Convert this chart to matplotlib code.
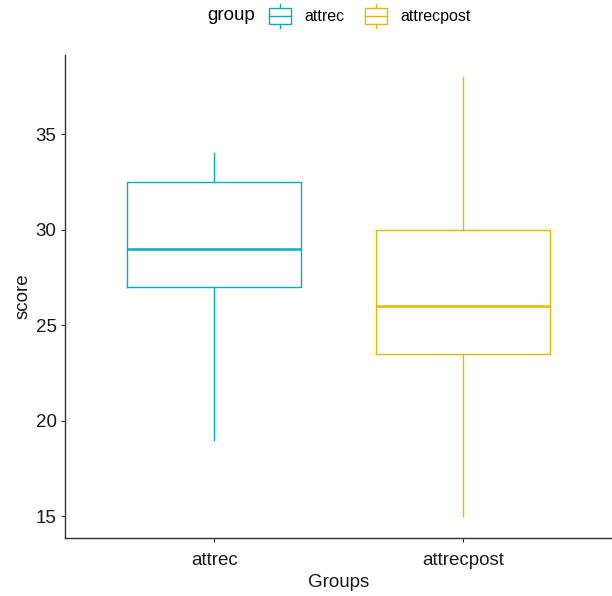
import matplotlib
matplotlib.use("Agg")
import matplotlib.pyplot as plt
from matplotlib.lines import Line2D
from matplotlib.patches import Rectangle
from matplotlib.legend_handler import HandlerBase
from matplotlib.offsetbox import HPacker

plt.rcParams['font.family'] = ['Liberation Sans', 'DejaVu Sans']

groups = ["attrec", "attrecpost"]
colors = ["#00AFBB", "#E7B800"]
whislo = [19, 15]
q1 = [27, 23.5]
med = [29, 26]
q3 = [32.5, 30]
whishi = [34, 38]
yticks = [15, 20, 25, 30, 35]

fig = plt.figure(figsize=(6.12, 5.96), dpi=100)
ax = fig.add_axes([65/612, 58/596, (612-65)/612, (538-55)/596])

stats = []
for i, g in enumerate(groups):
    stats.append(dict(label=g, whislo=whislo[i], q1=q1[i], med=med[i], q3=q3[i], whishi=whishi[i], fliers=[]))

for i, s in enumerate(stats):
    c = colors[i]
    ax.bxp([s], positions=[i + 1], widths=0.7, showcaps=False, showfliers=False,
           boxprops=dict(color=c, linewidth=1.0),
           whiskerprops=dict(color=c, linewidth=1.0),
           medianprops=dict(color=c, linewidth=1.8),
           manage_ticks=False)

ax.set_xlim(0.4, 2.6)
ax.set_ylim(13.85, 39.15)
ax.set_xticks([1, 2])
ax.set_xticklabels(groups)
ax.set_yticks(yticks)
ax.tick_params(axis="both", labelsize=13.5, colors="#333333", labelcolor="#1a1a1a", length=3, width=0.8)
ax.tick_params(axis="y", pad=3)
ax.tick_params(axis="x", pad=7)
for sp in ["top", "right"]:
    ax.spines[sp].set_visible(False)
for sp in ["left", "bottom"]:
    ax.spines[sp].set_color("#333333")
    ax.spines[sp].set_linewidth(1.0)
ax.set_xlabel("Groups", fontsize=13.5, color="#1a1a1a", labelpad=4)
ax.set_ylabel("score", fontsize=13.5, color="#1a1a1a", labelpad=3)


class BoxHandler(HandlerBase):
    def create_artists(self, legend, orig_handle, xdescent, ydescent, width, height, fontsize, trans):
        c = orig_handle.get_color()
        x0 = -xdescent
        y0 = -ydescent
        r = Rectangle((x0, y0 + height * 0.17), width, height * 0.66, fill=False,
                      edgecolor=c, linewidth=1.0, transform=trans)
        m = Line2D([x0, x0 + width], [y0 + height / 2] * 2, color=c, lw=1.0, transform=trans)
        w1 = Line2D([x0 + width / 2] * 2, [y0 + height * 0.83, y0 + height], color=c, lw=1.0, transform=trans)
        w2 = Line2D([x0 + width / 2] * 2, [y0, y0 + height * 0.17], color=c, lw=1.0, transform=trans)
        return [r, m, w1, w2]


handles = [Line2D([], [], color=c) for c in colors]
leg = fig.legend(handles, groups, loc="center", bbox_to_anchor=(339/612, 1 - 16/596), ncol=2, frameon=False,
                 title="group", fontsize=11.5, title_fontsize=13.5, handler_map={Line2D: BoxHandler()},
                 handlelength=1.4, handleheight=1.9, columnspacing=1.3, handletextpad=0.8)
title_box = leg._legend_title_box
handle_box = leg._legend_handle_box
leg._legend_box._children = [HPacker(pad=0, sep=10, children=[title_box, handle_box], align="center")]

fig.savefig("out.png", dpi=100)
